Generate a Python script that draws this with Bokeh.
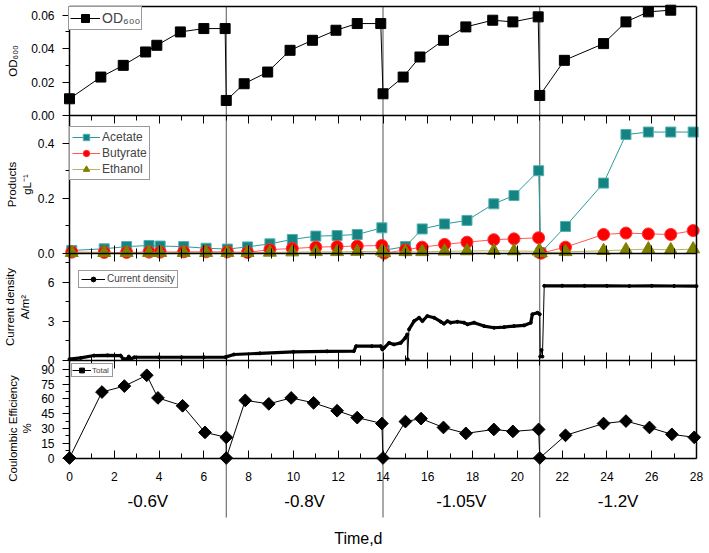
import numpy as np
from bokeh.plotting import figure
from bokeh.models import (Range1d, FixedTicker, PrintfTickFormatter, LinearAxis,
                          Legend, LegendItem)
from bokeh.embed import file_html
from bokeh.resources import INLINE
from bokeh.core.properties import value

FONT = "Liberation Sans"

# ---------------- data ----------------
switch_days = [7, 14, 21]
phase_edges = [0, 7, 14, 21, 28]
potentials = ["-0.6V", "-0.8V", "-1.05V", "-1.2V"]
x_ticks = list(range(0, 29, 2))
x_minor = list(range(1, 28, 2))

od_days = [0.0, 1.4, 2.4, 3.4, 3.9, 4.95, 6.0, 6.95, 7.0, 7.8, 8.85, 9.85, 10.85,
           11.9, 12.85, 13.9, 14.0, 14.9, 15.65, 16.7, 17.7, 18.9, 19.8, 20.93,
           21.0, 22.1, 23.85, 24.85, 25.85, 26.85]
od_vals = [0.010, 0.023, 0.030, 0.038, 0.042, 0.050, 0.052, 0.052, 0.009, 0.019,
           0.026, 0.039, 0.045, 0.051, 0.055, 0.055, 0.013, 0.023, 0.035, 0.045,
           0.053, 0.057, 0.056, 0.059, 0.012, 0.033, 0.043, 0.056, 0.062, 0.063]

prod_days = [0.1, 1.55, 2.55, 3.55, 4.05, 5.1, 6.1, 7.05, 7.95, 8.95, 9.95, 11.0,
             11.95, 12.85, 13.95, 14.05, 15.0, 15.75, 16.75, 17.75, 18.95, 19.85,
             20.95, 21.05, 22.15, 23.85, 24.85, 25.85, 26.85, 27.85]
acetate = [0.011, 0.017, 0.025, 0.029, 0.027, 0.025, 0.019, 0.016, 0.024, 0.035,
           0.051, 0.063, 0.065, 0.069, 0.093, 0.012, 0.025, 0.089, 0.107, 0.120,
           0.180, 0.210, 0.300, 0.003, 0.098, 0.255, 0.431, 0.440, 0.440, 0.440]
butyrate = [0.005, 0.004, 0.004, 0.005, 0.005, 0.006, 0.006, 0.006, 0.004, 0.014,
            0.018, 0.023, 0.025, 0.027, 0.029, 0.001, 0.013, 0.023, 0.033, 0.041,
            0.050, 0.053, 0.057, 0.001, 0.023, 0.069, 0.074, 0.071, 0.069, 0.083]
ethanol = [0.003, 0.003, 0.003, 0.003, 0.003, 0.003, 0.003, 0.003, 0.003, 0.004,
           0.005, 0.006, 0.006, 0.007, 0.008, 0.002, 0.006, 0.006, 0.008, 0.009,
           0.010, 0.009, 0.008, 0.002, 0.006, 0.010, 0.013, 0.016, 0.013, 0.016]

# current density samples
cd_days = [0.0, 0.5, 1.1, 1.7, 2.28, 2.4, 2.6, 2.65, 2.75, 2.9, 4.0, 5.0, 6.0, 6.97,
           7.0, 7.34, 8.5, 10.0, 11.5, 12.7, 12.8, 13.5, 13.9,
           13.97, 14.05, 14.27, 14.49, 14.79, 15.0, 15.08, 15.1, 15.16, 15.39, 15.61,
           15.76, 15.98, 16.28, 16.58, 16.72, 16.88, 17.02, 17.32, 17.62, 17.77,
           18.07, 18.51, 18.96, 19.41, 19.85, 20.3, 20.6, 20.67, 20.9, 21.0,
           21.02, 21.08, 21.12, 21.2, 22.0, 23.0, 24.0, 25.0, 26.0, 27.0, 28.0]
cd_vals = [0.1, 0.2, 0.38, 0.4, 0.38, 0.12, 0.15, 0.3, 0.12, 0.25, 0.25, 0.25, 0.25,
           0.26,
           0.28, 0.46, 0.55, 0.66, 0.7, 0.72, 1.1, 1.1, 1.1,
           0.85, 0.97, 1.35, 1.23, 1.35, 1.74, 2.0, 0.1, 2.38, 3.02, 3.28,
           3.02, 3.41, 3.28, 2.97, 2.82, 3.02, 2.9, 2.97, 2.9, 2.77,
           2.9, 2.64, 2.51, 2.56, 2.64, 2.69, 2.9, 3.54, 3.66, 3.54,
           0.3, 0.8, 0.3, 5.72, 5.73, 5.72, 5.72, 5.71, 5.72, 5.71, 5.70]
# isolated readings joined to the trace only by a thin connector
cd_thin_days = [15.1, 21.02, 21.08, 21.12]

ce_days = [0.0, 1.45, 2.45, 3.45, 3.95, 5.05, 6.05, 7.0, 7.0, 7.85, 8.9, 9.9, 10.9,
           11.95, 12.85, 13.95, 14.0, 15.0, 15.7, 16.7, 17.7, 18.95, 19.8, 20.95,
           21.0, 22.15, 23.85, 24.85, 25.9, 26.9, 27.9]
ce_vals = [0, 67, 73, 84, 61, 53, 26, 21, 0, 58.5, 55, 61, 56, 48, 41, 35, 0, 37,
           40, 31, 25, 29, 27, 29, 0, 23, 35, 37.5, 31, 24, 21]

# ---------------- geometry (pixels from the top-left of the canvas) ----------------
W, H = 707, 551
LEFT = 69
FRAME_W = 627
X0, X1 = 0, 28
scale = FRAME_W / (X1 - X0)
BANDS = {"od": (6, 115), "prod": (115, 253), "cd": (253, 360), "ce": (360, 457.5)}
SEP_COLOR = "#555555"


def fy(px):
    return H - px


def band_range(y0, y1, band):
    top, bottom = band
    B, T = H - bottom, H - top
    k = (y1 - y0) / (T - B)
    return Range1d(y0 - B * k, y0 + (H - B) * k), k, B


p = figure(width=W, height=H,
           x_range=Range1d(X0 - LEFT / scale, X0 + (W - LEFT) / scale),
           y_range=Range1d(0, H), x_axis_type=None, y_axis_type=None,
           min_border=0, outline_line_color=None, output_backend="svg",
           toolbar_location=None, background_fill_color="white",
           border_fill_color="white")
p.grid.visible = False

specs = {"od": (0, 0.0652), "prod": (0, 0.5), "cd": (0, 8.2), "ce": (0, 99)}
maps = {}
for name, (y0, y1) in specs.items():
    rng, k, B = band_range(y0, y1, BANDS[name])
    p.extra_y_ranges[name] = rng
    maps[name] = (k, B, y0)

# ---- frame borders ----
top_px, bot_px = BANDS["od"][0], BANDS["ce"][1]
for side, loc in (("left", X0), ("right", X1)):
    p.add_layout(LinearAxis(fixed_location=loc, bounds=(fy(bot_px), fy(top_px)),
                            ticker=FixedTicker(ticks=[]), axis_line_width=1.5,
                            major_tick_in=0, major_tick_out=0), side)


def hline_ticks(px, t_in, t_out, line=True):
    # horizontal boundary with inward tick marks (no labels)
    for i, (ticks, length) in enumerate(((x_ticks, 8), (x_minor, 5))):
        ax = LinearAxis(fixed_location=fy(px), bounds=(X0, X1),
                        ticker=FixedTicker(ticks=[], minor_ticks=ticks),
                        minor_tick_in=length if t_in else 0,
                        minor_tick_out=length if t_out else 0,
                        major_tick_in=0, major_tick_out=0, minor_tick_line_width=1,
                        axis_line_width=1.5,
                        axis_line_color="black" if (line and i == 0) else None)
        p.add_layout(ax, "below")


hline_ticks(BANDS["od"][0], False, False)
hline_ticks(BANDS["od"][1], False, True)
hline_ticks(BANDS["prod"][1], True, True)
hline_ticks(BANDS["cd"][1], True, True)

# bottom axis with tick labels
p.add_layout(LinearAxis(fixed_location=fy(bot_px), bounds=(X0, X1),
                        ticker=FixedTicker(ticks=x_ticks, minor_ticks=x_minor),
                        major_tick_in=8, major_tick_out=0, minor_tick_in=5,
                        minor_tick_out=0, axis_line_width=1.5,
                        major_label_standoff=14, major_label_text_font=FONT,
                        major_label_text_font_size="12px",
                        major_label_text_color="black"), "below")


def y_axis(name, yticks, yminor, fmt, label, lab_standoff, label_center_px=None):
    k, B, y0 = maps[name]
    lo, hi = specs[name]
    if label_center_px is not None:
        # stretch the (invisible) rule so the title is centred where the reference has it
        lo = y0 + ((H - (2 * label_center_px - BANDS[name][0])) - B) * k
    ax = LinearAxis(y_range_name=name, fixed_location=X0, bounds=(lo, hi),
                    ticker=FixedTicker(ticks=yticks, minor_ticks=yminor),
                    formatter=PrintfTickFormatter(format=fmt),
                    major_tick_out=7, major_tick_in=0, minor_tick_out=4,
                    minor_tick_in=0, major_label_standoff=8,
                    major_label_text_font=FONT, major_label_text_font_size="12px",
                    major_label_text_color="black", axis_line_color=None,
                    axis_label=label, axis_label_standoff=lab_standoff,
                    axis_label_text_font=FONT, axis_label_text_font_size="11.5px",
                    axis_label_text_font_style="normal",
                    axis_label_text_color="black")
    p.add_layout(ax, "left")


y_axis("od", [0, 0.02, 0.04, 0.06], [0.01, 0.03, 0.05], "%.2f", "OD₆₀₀", 9)
y_axis("prod", [0, 0.2, 0.4], [0.1, 0.3], "%.1f", "Products\ngL⁻¹", 2)
y_axis("cd", [0, 3, 6], [1.5, 4.5, 7.5], "%d", "Current density\nA/m²", 14)
y_axis("ce", list(range(0, 91, 15)), [7.5 + 15 * i for i in range(6)], "%d",
       "Coulombic Efficiency\n%", 5, label_center_px=428)

# ---- separators between potentials ----
p.segment(x0=switch_days, y0=[fy(top_px)] * len(switch_days), x1=switch_days,
          y1=[fy(517)] * len(switch_days), line_color=SEP_COLOR, line_width=1)


def add_legend(items, loc_px, font_size, glyph_w, glyph_h, padding, standoff):
    lg = Legend(items=[LegendItem(label=l, renderers=r) for l, r in items])
    x, bottom_px = loc_px
    lg.location = (x, H - bottom_px)
    lg.label_text_font = FONT
    lg.label_text_font_size = font_size
    lg.glyph_width = glyph_w
    lg.glyph_height = glyph_h
    lg.label_height = glyph_h
    lg.padding = padding
    lg.spacing = 0
    lg.margin = 0
    lg.label_standoff = standoff
    lg.border_line_color = "#333333"
    lg.border_line_width = 1
    lg.background_fill_alpha = 1
    p.add_layout(lg)


# ---- panel 1: OD600 ----
r1 = p.line(od_days, od_vals, y_range_name="od", line_color="black", line_width=1)
r2 = p.scatter(od_days, od_vals, y_range_name="od", marker="square", size=10,
               color="black")
add_legend([("OD₆₀₀", [r1, r2])], (LEFT - 1, 29.5), "14px", 30, 20, 1, 2)

# ---- panel 2: products ----
a1 = p.line(prod_days, acetate, y_range_name="prod", line_color="#2b9a9a", line_width=1)
a2 = p.scatter(prod_days, acetate, y_range_name="prod", marker="square", size=10,
               fill_color="#168383", line_color="#4fb0b0")
b1 = p.line(prod_days, butyrate, y_range_name="prod", line_color="#ff5a5a", line_width=1)
b2 = p.scatter(prod_days, butyrate, y_range_name="prod", marker="circle", size=12,
               fill_color="#ff0000", line_color="#ff3030")
e1 = p.line(prod_days, ethanol, y_range_name="prod", line_color="#b5b560", line_width=1)
e2 = p.scatter(prod_days, ethanol, y_range_name="prod", marker="triangle", size=13,
               fill_color="#808000", line_color="#808000")
add_legend([("Acetate", [a1, a2]), ("Butyrate", [b1, b2]), ("Ethanol", [e1, e2])],
           (LEFT, 180), "12px", 28, 16, 2, 2)

# ---- panel 3: current density ----
band_vals = [np.nan if d in cd_thin_days else v for d, v in zip(cd_days, cd_vals)]
c1 = p.line(cd_days, cd_vals, y_range_name="cd", line_color="black", line_width=1)
p.line(cd_days, band_vals, y_range_name="cd", line_color="black", line_width=3.2)
c2 = p.scatter(cd_days, cd_vals, y_range_name="cd", marker="circle", size=3,
               color="black")
add_legend([("Current density", [c1, c2])], (LEFT + 9, 287.5), "10px", 24, 12, 2, 2)

# ---- panel 4: coulombic efficiency ----
d1 = p.line(ce_days, ce_vals, y_range_name="ce", line_color="black", line_width=1)
d2 = p.scatter(ce_days, ce_vals, y_range_name="ce", marker="square",
               angle=np.pi / 4, size=9, color="black")
add_legend([("Total", [d1, d2])], (LEFT + 2, 377), "8px", 19, 12, 0, 1)

# ---- potentials and axis title ----
centers = [(a + b) / 2 for a, b in zip(phase_edges[:-1], phase_edges[1:])]
p.text(x=centers, y=[fy(501)] * len(centers), text=potentials,
       text_align="center", text_baseline="middle", text_font=value(FONT),
       text_font_size=value("17px"), text_color="black")
p.text(x=[12.9], y=[fy(538)], text=["Time,d"], text_align="center",
       text_baseline="middle", text_font=value(FONT),
       text_font_size=value("16px"), text_color="black")

open("out.html", "w").write(file_html(p, INLINE))
